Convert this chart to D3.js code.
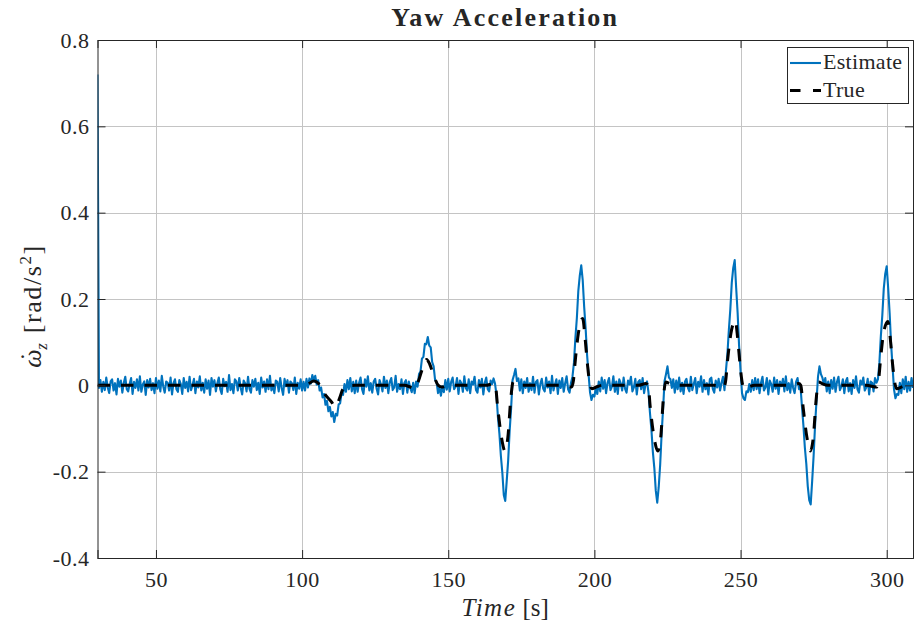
<!DOCTYPE html>
<html>
<head>
<meta charset="utf-8">
<script src="https://cdn.jsdelivr.net/npm/d3@7"></script>
<style>
  body { margin: 0; background: #fff; }
  svg text { font-family: "Liberation Serif", "Times New Roman", serif; fill: #262626; }
</style>
</head>
<body>
<div id="chart"></div>
<script>
// axis setup
const xTicks = [50, 100, 150, 200, 250, 300];
const yTicks = [-0.4, -0.2, 0, 0.2, 0.4, 0.6, 0.8];
const timeRange = [30, 309];
const accelRange = [-0.4, 0.8];
const seriesNames = ["Estimate", "True"];

// estimated yaw acceleration, sampled every 0.5 s from t = 30 s, in 1e-3 rad/s^2
const estimateStart = 30;
const estimateStep = 0.5;
const estimateMilli = [
  720,
  // 30.5 - 100
  -6, 12, -15, 8, -11, 18, -5, -18, 9, 14, -12, 5, -21, 15, -3, 11, -17, 6, 20, -9,
  -14, 3, 17, -20, 8, -6, 14, -12, 21, -15, 2, 9, -22, 12, -5, 15, -11, 5, -18, 17,
  -8, 11, -14, 22, -3, -17, 9, 6, -12, 18, -21, 5, 14, -9, -15, 12, 3, -20, 17, -6,
  8, -14, 20, -11, 0, 15, -18, 9, -5, 21, -12, 6, -17, 14, -8, 11, -22, 17, -3, 12,
  -14, 5, 18, -9, -20, 15, -2, 8, -15, 24, -11, 3, -18, 14, 9, -12, 17, -6, -21, 11,
  5, -14, 20, -8, -17, 12, -3, 15, -11, 6, -20, 18, -5, 9, -15, 14, -9, 22, -12, 2,
  -18, 11, 8, -14, 17, -6, -22, 15, -2, 12, -17, 9, 5, -11, 18, -20, 6, -8, 14, -12,
  // 100.5 - 118
  8, -12, 15, -5, 16, 4, 24, 12, 22, 2, 12, -12, -5, -28, -20, -45, -36, -60, -50, -72,
  -62, -85, -66, -70, -44, -42, -18, -22, 3, -15, 12, -9, 17, -14, 8, -18,
  // 118.5 - 137
  11, -15, 6, 18, -9, -20, 14, -3, 21, -12, 5, -17, 9, 15, -8, -21, 12, 2, -14, 20,
  -6, 11, -18, 8, 17, -11, -5, 22, -15, 3, -9, 14, -20, 6, 12, -17, 9, -6,
  // 137.5 - 150
  -16, 6, -18, 9, -3, 26, 32, 62, 66, 96, 95, 112, 92, 88, 54, 44, 12, 8, -18, -5,
  -24, -2, -16, 12, -10, 15,
  // 150.5 - 165.5
  -14, 8, 18, -9, -3, 17, -20, 11, 5, -15, 21, -6, -12, 14, -18, 9, 2, 20, -11, -17,
  12, -5, 15, -21, 6, 18, -9, -14, 11, 3, 16,
  // 166 - 178
  4, -22, -74, -112, -163, -202, -254, -268, -222, -174, -106, -54, 12, 24, 38, 10, 16, -12, 14, -18,
  9, -6, 17, -15, 5,
  // 178.5 - 192
  -11, 20, -17, 8, 12, -21, 3, 15, -8, -14, 18, -5, 9, -18, 22, -12, 2, 14, -20, 11,
  -6, 17, -15, 5, 21, -9, -17, 6,
  // 192.5 - 203
  20, 52, 110, 156, 219, 254, 278, 244, 182, 132, 70, 26, -16, -34, -22, -26, -5, -20, 9, -14,
  18, -8,
  // 203.5 - 218
  12, -18, 6, 17, -11, -3, 21, -15, 9, -20, 14, 5, -12, 18, -8, -17, 11, 2, 20, -14,
  -5, 15, -21, 8, 12, -9, 17, -18, 3, 9,
  // 218.5 - 230
  -16, -63, -102, -154, -191, -244, -272, -236, -184, -112, -54, 10, 26, 44, 18, 14, -6, 14, -17, 11,
  -9, 18, -14, 6,
  // 230.5 - 244.5
  -20, 9, 15, -6, -14, 20, -11, 3, 17, -18, 8, -3, 21, -15, 12, -9, 5, -21, 14, 18,
  -8, -17, 11, -5, 15, -12, 6, 20, -11,
  // 245 - 255
  34, 72, 128, 176, 238, 272, 290, 226, 168, 92, 34, -18, -30, -34, -14, -16, 3, -15, 12, -11,
  17,
  // 255.5 - 270
  -9, 14, -18, 6, 20, -12, -5, 17, -21, 11, 3, -15, 18, -8, 12, -20, 9, -2, 15, -14,
  21, -11, 5, -17, 14, -6, -18, 8, 17, -9,
  // 270.5 - 282
  -2, -48, -92, -144, -182, -234, -266, -276, -222, -163, -92, -34, 20, 44, 26, 18, 2, 17, -14, 9,
  -18, 12, -8, 18,
  // 282.5 - 296
  -15, 8, 20, -11, -3, 14, -18, 9, 17, -14, 5, -20, 12, -6, 21, -9, -17, 11, 2, 18,
  -12, -5, 15, -21, 9, 6, -14, 17,
  // 296.5 - 309
  6, 14, 52, 114, 162, 224, 258, 276, 226, 168, 96, 44, -9, -30, -20, -22, 6, -18, 14, -9,
  20, -15, 8, -12, 17, -6
];

// true yaw acceleration (rad/s^2) at its turning points
const trueTime = [
  30, 100, 102, 104, 105.5, 107.6, 110, 111.5, 112.8, 114, 115.5, 118,
  135, 137, 138.5, 139.7, 141, 142.6, 143.6, 144.8, 146.6, 147.8, 150,
  163, 165.4, 166.1, 166.9, 168.2, 169.4, 170.4, 171.4, 172.2, 173.4, 175.4,
  189, 192.2, 192.8, 193.5, 194.5, 196, 196.8, 197.6, 198.4, 199.1, 200.6, 202.6,
  215, 217.6, 218.4, 219.1, 220.4, 221.7, 222.7, 223.6, 224.4, 225.6, 227.6,
  241, 244.3, 244.9, 245.6, 246.7, 248.2, 249, 249.8, 250.6, 251.3, 252.8, 254.8,
  267, 269.9, 270.6, 271.4, 272.7, 273.9, 274.9, 275.9, 276.7, 277.9, 279.9,
  293, 296.6, 297.2, 297.9, 298.9, 300.4, 301.2, 302, 302.8, 303.5, 305, 307, 309
];
const trueValue = [
  0, 0, 0.003, 0.01, 0.005, -0.019, -0.038, -0.05, -0.03, -0.008, -0.001, 0,
  0, -0.004, -0.008, 0.008, 0.035, 0.06, 0.05, 0.027, 0, -0.004, 0,
  0, 0.004, 0, -0.05, -0.12, -0.152, -0.12, -0.03, 0.008, 0.004, 0,
  0, -0.004, 0.01, 0.06, 0.12, 0.155, 0.11, 0.05, 0.005, -0.008, -0.004, 0,
  0, 0.004, 0, -0.05, -0.12, -0.152, -0.12, -0.03, 0.008, 0.004, 0,
  0, -0.004, 0.01, 0.06, 0.12, 0.15, 0.11, 0.05, 0.005, -0.008, -0.004, 0,
  0, 0.004, 0, -0.05, -0.12, -0.152, -0.12, -0.03, 0.008, 0.004, 0,
  0, -0.004, 0.01, 0.06, 0.12, 0.148, 0.11, 0.05, 0.005, -0.008, -0.004, 0, 0
];

const width = 914, height = 630;
const plot = {left: 97.5, right: 913, top: 40, bottom: 558};
const axisColor = "#262626";
const blue = "#0072BD";

const estimate = estimateMilli.map((v, i) => ({t: estimateStart + i * estimateStep, v: v / 1000}));
const truth = trueTime.map((t, i) => ({t: t, v: trueValue[i]}));

const svg = d3.select("#chart").append("svg")
    .attr("width", width)
    .attr("height", height);

const x = d3.scaleLinear().domain(timeRange).range([plot.left, plot.right]);
const y = d3.scaleLinear().domain(accelRange).range([plot.bottom, plot.top]);

// grid
const grid = svg.append("g").attr("class", "grid");
xTicks.forEach(t => {
    grid.append("line")
        .attr("x1", Math.round(x(t)) + 0.5).attr("x2", Math.round(x(t)) + 0.5)
        .attr("y1", plot.top).attr("y2", plot.bottom)
        .style("stroke", "#c4c4c4").style("stroke-width", 1);
});
yTicks.slice(1, -1).forEach(v => {
    grid.append("line")
        .attr("x1", plot.left).attr("x2", plot.right)
        .attr("y1", Math.round(y(v)) + 0.5).attr("y2", Math.round(y(v)) + 0.5)
        .style("stroke", "#c4c4c4").style("stroke-width", 1);
});

svg.append("clipPath").attr("id", "plot-clip")
  .append("rect")
    .attr("x", plot.left).attr("y", plot.top)
    .attr("width", plot.right - plot.left).attr("height", plot.bottom - plot.top);

const line = d3.line().x(d => x(d.t)).y(d => y(d.v));
const smoothLine = d3.line().x(d => x(d.t)).y(d => y(d.v)).curve(d3.curveMonotoneX);

const lines = svg.append("g").attr("clip-path", "url(#plot-clip)");
lines.append("path")
    .datum(estimate)
    .attr("d", line)
    .style("fill", "none")
    .style("stroke", blue)
    .style("stroke-width", 2.1)
    .style("stroke-linejoin", "round");
lines.append("path")
    .datum(truth)
    .attr("d", smoothLine)
    .style("fill", "none")
    .style("stroke", "#000")
    .style("stroke-width", 3)
    .style("stroke-dasharray", "12.5,11");

// axes on all four sides, ticks pointing in
const fmt = d => d === 0 ? "0" : d3.format(".1f")(d).replace("\u2212", "-");
const axes = [
    {ax: d3.axisBottom(x).tickValues(xTicks).tickSize(-8).tickPadding(13), tr: `translate(0,${plot.bottom})`},
    {ax: d3.axisTop(x).tickValues(xTicks).tickSize(-8).tickFormat(""), tr: `translate(0,${plot.top})`},
    {ax: d3.axisLeft(y).tickValues(yTicks).tickSize(-8).tickPadding(8).tickFormat(fmt), tr: `translate(${plot.left},0)`},
    {ax: d3.axisRight(y).tickValues(yTicks).tickSize(-8).tickFormat(""), tr: `translate(${plot.right},0)`}
];
axes.forEach(a => {
    const g = svg.append("g").attr("transform", a.tr).call(a.ax);
    g.attr("font-family", null);
    g.select(".domain").attr("stroke", axisColor);
    g.selectAll(".tick line").attr("stroke", axisColor);
    g.selectAll(".tick text")
        .attr("fill", axisColor)
        .style("font-family", '"Liberation Serif", serif')
        .style("font-size", "22px")
        .style("letter-spacing", "0.5px");
});

// title
svg.append("text")
    .attr("x", (plot.left + plot.right) / 2)
    .attr("y", 26)
    .attr("text-anchor", "middle")
    .style("font-size", "26px")
    .style("font-weight", "bold")
    .style("letter-spacing", "2.2px")
    .text("Yaw Acceleration");

// x label
const xLabel = svg.append("text")
    .attr("x", (plot.left + plot.right) / 2)
    .attr("y", 616)
    .attr("text-anchor", "middle")
    .style("font-size", "25px");
xLabel.append("tspan").style("font-style", "italic").style("letter-spacing", "1.5px").text("Time");
xLabel.append("tspan").text(" [s]");

// y label: omega-dot sub z [rad/s^2]
const yLabel = svg.append("text")
    .attr("transform", `translate(41,${(plot.top + plot.bottom) / 2 + 7}) rotate(-90)`)
    .attr("text-anchor", "middle")
    .style("font-size", "26px")
    .style("letter-spacing", "1.6px");
yLabel.append("tspan").style("font-style", "italic").text("\u03C9");
yLabel.append("tspan").attr("dx", -13).attr("dy", -3).text("\u02D9");
yLabel.append("tspan").style("font-style", "italic").style("font-size", "17px").attr("dx", 1).attr("dy", 9).text("z");
yLabel.append("tspan").attr("dy", -6).text(" [rad/s");
yLabel.append("tspan").style("font-size", "17px").attr("dy", -10).text("2");
yLabel.append("tspan").attr("dy", 10).text("]");

// legend
const legend = svg.append("g").attr("class", "legend");
legend.append("rect")
    .attr("x", 787.5).attr("y", 47.5)
    .attr("width", 121).attr("height", 56)
    .style("fill", "#fff")
    .style("stroke", axisColor)
    .style("stroke-width", 1);
const legendStyles = [
    {stroke: blue, width: 2.1, dash: null},
    {stroke: "#000", width: 3, dash: "10.5,12.5"}
];
seriesNames.forEach((name, i) => {
    const ly = 63 + i * 27.5;
    legend.append("line")
        .attr("x1", 790).attr("x2", 821)
        .attr("y1", ly).attr("y2", ly)
        .style("stroke", legendStyles[i].stroke)
        .style("stroke-width", legendStyles[i].width)
        .style("stroke-dasharray", legendStyles[i].dash);
    legend.append("text")
        .attr("x", 823)
        .attr("y", ly + 6)
        .style("font-size", "22px")
        .style("letter-spacing", "0.3px")
        .text(name);
});
</script>
</body>
</html>
